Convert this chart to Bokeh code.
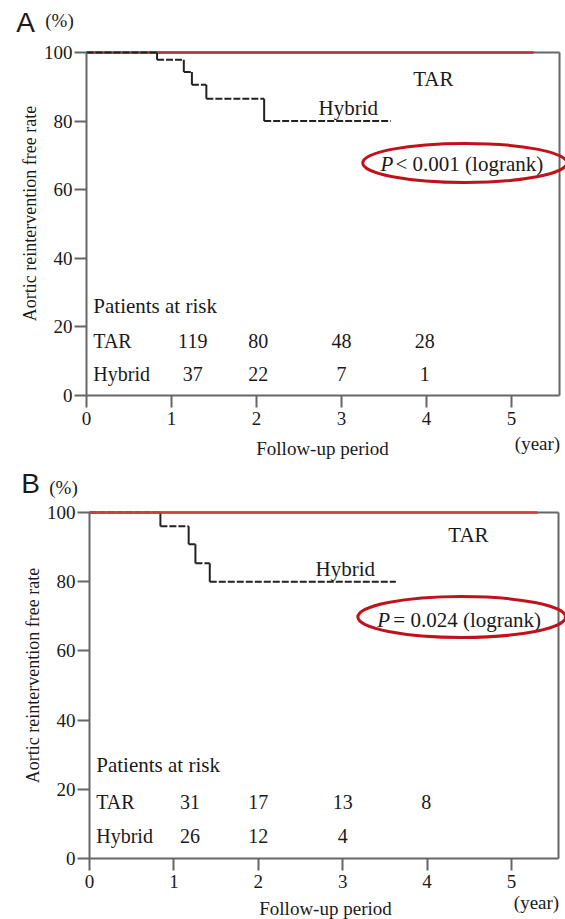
import math
from bokeh.plotting import figure
from bokeh.models import Range1d, FixedTicker
from bokeh.layouts import column
from bokeh.core.properties import value
from bokeh.embed import file_html
from bokeh.resources import INLINE

# ---------------- data ----------------
year_ticks = [0, 1, 2, 3, 4, 5]
pct_ticks = [0, 20, 40, 60, 80, 100]

a_hyb_t = [0.0, 0.83, 1.145, 1.24, 1.41, 2.09]
a_hyb_s = [100.0, 97.9, 94.3, 90.6, 86.5, 80.0]
a_hyb_end = 3.58
a_tar_t = [0.0, 5.26]
a_tar_s = [100.0, 100.0]
a_risk_tar = [119, 80, 48, 28]
a_risk_hyb = [37, 22, 7, 1]
a_pval = "< 0.001 (logrank)"

b_hyb_t = [0.0, 0.84, 1.175, 1.255, 1.425]
b_hyb_s = [100.0, 96.0, 90.8, 85.3, 80.0]
b_hyb_end = 3.63
b_tar_t = [0.0, 5.31]
b_tar_s = [100.0, 100.0]
b_risk_tar = [31, 17, 13, 8]
b_risk_hyb = [26, 12, 4]
b_pval = "= 0.024 (logrank)"

SERIF = "Liberation Serif"
SANS = "Liberation Sans"
TXT = "#1a1a1a"
AX = "#666666"
W = 565


def make_panel(cfg):
    fig_top, fig_h = cfg["fig_top"], cfg["fig_h"]
    left, bottom, ppx, ppy = cfg["left"], cfg["bottom"], cfg["ppx"], cfg["ppy"]
    lb = bottom - fig_top  # frame-local pixel row of y = 0
    p = figure(width=W, height=fig_h, output_backend="svg", toolbar_location=None,
               x_range=Range1d(-left / ppx, (W - left) / ppx),
               y_range=Range1d((lb - fig_h) / ppy, lb / ppy),
               min_border=0, min_border_left=0, min_border_right=0,
               min_border_top=0, min_border_bottom=0,
               background_fill_color="white", border_fill_color="white",
               outline_line_color=None)
    p.grid.visible = False
    box_r = cfg["box_r"]

    for ax, ticks, bnd in ((p.xaxis, year_ticks, (0, box_r)), (p.yaxis, pct_ticks, (0, 100))):
        ax.fixed_location = 0
        ax.ticker = FixedTicker(ticks=ticks)
        ax.bounds = bnd
        ax.axis_line_color = AX
        ax.axis_line_width = 2
        ax.major_tick_line_color = AX
        ax.major_tick_line_width = 2
        ax.major_tick_in = 0
        ax.major_tick_out = 12
        ax.minor_tick_line_color = None
        ax.major_label_text_font = SERIF
        ax.major_label_text_font_size = "19px"
        ax.major_label_text_color = TXT
    p.yaxis.major_label_standoff = 2
    p.xaxis.major_label_standoff = 4

    # box top / right
    p.segment(x0=[0, box_r], y0=[100, 0], x1=[box_r, box_r], y1=[100, 100],
              line_color=AX, line_width=2)

    def draw_tar():
        p.line(cfg["tar_t"], cfg["tar_s"], line_color=cfg["red"], line_width=2.6)

    if not cfg["red_on_top"]:
        draw_tar()
    # Hybrid step curve
    t, s, end = cfg["hyb_t"], cfg["hyb_s"], cfg["hyb_end"]
    p.segment(x0=t, y0=s, x1=t[1:] + [end], y1=s, line_color="#222222", line_width=2,
              line_dash="7 2")
    p.segment(x0=t[1:], y0=s[:-1], x1=t[1:], y1=s[1:], line_color="#222222",
              line_width=2)
    if cfg["red_on_top"]:
        draw_tar()

    tf = value(SERIF)

    def txt(xs, ys, texts, size, align="center", font=tf, style="normal", angle=0.0):
        p.text(x=xs, y=ys, text=texts, text_font=font, text_font_size=size,
               text_font_style=style, text_align=align, text_baseline="middle",
               text_color=TXT, angle=angle)

    # curve labels
    txt([cfg["tar_lab"][0]], [cfg["tar_lab"][1]], ["TAR"], "21px")
    txt([cfg["hyb_lab"][0]], [cfg["hyb_lab"][1]], ["Hybrid"], "21px")
    # p-value
    px_, py_ = cfg["p_pos"]
    txt([px_], [py_], ["P"], "21px", align="left", style="italic")
    txt([cfg["p_rest_x"]], [py_], [cfg["pval"]], "21px", align="left")
    ex, ey, ew, eh = cfg["ell"]
    p.ellipse(x=[ex], y=[ey], width=[ew], height=[eh], fill_color=None,
              line_color="#c0121c", line_width=3)

    # risk table
    rx = cfg["risk_x"]
    ry_title, ry_tar, ry_hyb = cfg["risk_y"]
    txt([rx], [ry_title], ["Patients at risk"], "21px", align="left")
    txt([rx, rx], [ry_tar, ry_hyb], ["TAR", "Hybrid"], "20px", align="left")
    tar_r, hyb_r = cfg["risk_tar"], cfg["risk_hyb"]
    cols = cfg["risk_cols"]
    txt(cols[:len(tar_r)], [ry_tar] * len(tar_r), [str(v) for v in tar_r], "20px")
    txt(cols[:len(hyb_r)], [ry_hyb] * len(hyb_r), [str(v) for v in hyb_r], "20px")

    # texts around the box (positions given in page pixels)
    def lab(pxp, pyp, text, size, font=tf, angle=0.0):
        txt([(pxp - left) / ppx], [(bottom - pyp) / ppy], [text], size, font=font,
            angle=angle)

    lab(*cfg["letter_pos"], cfg["letter"], "28px", font=value(SANS))
    lab(*cfg["pct_pos"], "(%)", "19px")
    lab(*cfg["ylab_pos"], "Aortic reintervention free rate", "18px", angle=math.pi / 2)
    lab(*cfg["xlab_pos"], "Follow-up period", "19px")
    lab(*cfg["year_pos"], "(year)", "19px")
    return p


cfg_a = dict(fig_top=0, fig_h=460, left=86, bottom=395, ppx=85.0, ppy=3.43,
             box_r=5.565, red="#b3343f", red_on_top=False,
             tar_t=a_tar_t, tar_s=a_tar_s, hyb_t=a_hyb_t, hyb_s=a_hyb_s, hyb_end=a_hyb_end,
             tar_lab=(4.08, 92.4), hyb_lab=(3.08, 83.7), p_pos=(3.46, 67.6),
             p_rest_x=3.635, pval=a_pval, ell=(4.45, 67.8, 2.4, 11.4),
             risk_x=0.08, risk_y=(26.2, 16.0, 6.4), risk_tar=a_risk_tar,
             risk_hyb=a_risk_hyb, risk_cols=[1.25, 2.02, 3.0, 3.98],
             letter="A", letter_pos=(25, 22), pct_pos=(59, 20), ylab_pos=(29, 213),
             xlab_pos=(322, 448), year_pos=(537, 443))

cfg_b = dict(fig_top=460, fig_h=459, left=89, bottom=858, ppx=84.4, ppy=3.46,
             box_r=5.557, red="#d23c3c", red_on_top=True,
             tar_t=b_tar_t, tar_s=b_tar_s, hyb_t=b_hyb_t, hyb_s=b_hyb_s, hyb_end=b_hyb_end,
             tar_lab=(4.49, 93.6), hyb_lab=(3.03, 83.8), p_pos=(3.41, 68.8),
             p_rest_x=3.60, pval=b_pval, ell=(4.41, 69.8, 2.46, 11.8),
             risk_x=0.08, risk_y=(26.9, 16.2, 6.6), risk_tar=b_risk_tar,
             risk_hyb=b_risk_hyb, risk_cols=[1.19, 2.0, 3.0, 3.99],
             letter="B", letter_pos=(30, 483), pct_pos=(63, 487), ylab_pos=(32, 675),
             xlab_pos=(325, 908), year_pos=(536, 902))

pa = make_panel(cfg_a)
pb = make_panel(cfg_b)
layout = column(pa, pb, spacing=0)
open("out.html", "w").write(file_html(layout, INLINE))
